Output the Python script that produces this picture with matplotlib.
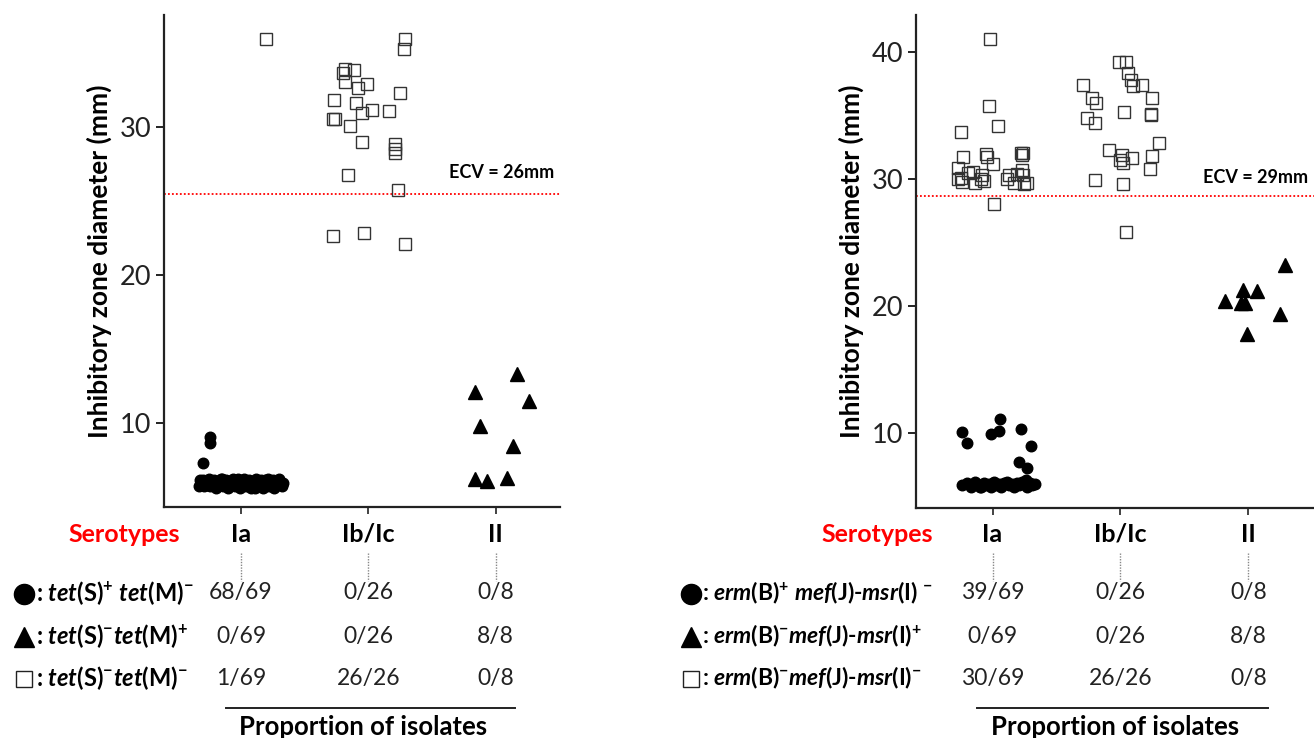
import matplotlib
matplotlib.use("Agg")
import matplotlib.pyplot as plt
from matplotlib.lines import Line2D
from matplotlib.transforms import blended_transform_factory

plt.rcParams['font.family'] = ['Lato', 'DejaVu Sans']
plt.rcParams['mathtext.fontset'] = 'custom'
plt.rcParams['mathtext.rm'] = 'Lato:bold'
plt.rcParams['mathtext.it'] = 'Lato:bold:italic'
plt.rcParams['mathtext.bf'] = 'Lato:bold'

# ---------------- data ----------------
serotypes = ["Ia", "Ib/Ic", "II"]

# Left panel (tetracycline)
L_ecv = 25.5
L_ecv_label = "ECV = 26mm"
L_circ_Ia_y = [9.05, 8.64, 7.24,
               5.7, 5.9, 6.1, 5.8, 6.0, 6.2, 5.7, 5.9, 6.1, 5.6, 5.8, 6.0, 6.2,
               5.7, 5.9, 6.1, 5.6, 5.8, 6.0, 6.2, 5.7, 5.9, 6.1, 5.6, 5.8, 6.0,
               6.2, 5.7, 5.9, 6.1, 5.6, 5.8, 6.0, 6.2, 5.7, 5.9, 6.1, 5.6, 5.8,
               6.0, 6.2, 5.7, 5.9, 6.1, 5.6, 5.8, 6.0, 6.2, 5.7, 5.9, 6.1, 5.8,
               6.0, 5.7, 6.2, 5.9, 5.6, 6.1, 5.8, 6.0, 5.7, 6.2, 5.9, 6.0, 5.8]
L_circ_Ia_j = [-0.24, -0.24, -0.30,
               -0.33, -0.31, -0.30, -0.28, -0.27, -0.25, -0.24, -0.22, -0.21,
               -0.20, -0.18, -0.17, -0.16, -0.14, -0.13, -0.12, -0.10, -0.09,
               -0.08, -0.06, -0.05, -0.04, -0.03, -0.01, 0.00, 0.01, 0.02, 0.04,
               0.05, 0.06, 0.08, 0.09, 0.10, 0.12, 0.13, 0.14, 0.16, 0.17, 0.18,
               0.20, 0.21, 0.22, 0.24, 0.25, 0.26, 0.28, 0.29, 0.30, 0.32, 0.33,
               -0.32, -0.26, -0.19, -0.11, -0.02, 0.03, 0.11, 0.19, 0.27, 0.31,
               -0.29, -0.15, 0.07, 0.15, 0.23]
L_sq_Ia_y = [36.0]
L_sq_Ia_j = [0.20]
L_sq_Ib_y = [35.97, 35.27, 33.92, 33.69, 33.87, 33.08, 32.63, 32.94, 31.83,
             32.31, 31.66, 30.94, 31.14, 31.10, 30.54, 30.54, 30.10, 28.98,
             28.84, 28.27, 26.76, 25.75, 22.61, 22.86, 22.09, 28.56]
L_sq_Ib_j = [0.29, 0.28, -0.18, -0.20, -0.11, -0.18, -0.08, -0.01, -0.27,
             0.25, -0.10, -0.05, 0.03, 0.16, -0.28, -0.26, -0.14, -0.05,
             0.21, 0.21, -0.16, 0.23, -0.28, -0.03, 0.29, 0.21]
L_tri_II_y = [13.29, 12.05, 11.46, 9.79, 8.42, 6.16, 6.05, 6.23]
L_tri_II_j = [0.17, -0.16, 0.26, -0.12, 0.14, -0.16, -0.07, 0.09]

L_row_labels = [r": $tet$(S)$^{+}$ $tet$(M)$^{-}$",
                r": $tet$(S)$^{-}tet$(M)$^{+}$",
                r": $tet$(S)$^{-}tet$(M)$^{-}$"]
L_props = [["68/69", "0/26", "0/8"],
           ["0/69", "0/26", "8/8"],
           ["1/69", "26/26", "0/8"]]

# Right panel (macrolide)
R_ecv = 28.7
R_ecv_label = "ECV = 29mm"
R_circ_Ia_y = [11.12, 10.08, 9.21, 9.92, 10.18, 10.34, 9.03, 7.77, 7.25,
               5.9, 6.1, 5.8, 6.2, 6.0, 5.8, 6.1, 5.9, 6.0, 5.8, 6.2, 5.9,
               6.0, 5.8, 6.1, 6.2, 5.9, 6.0, 5.8, 6.1, 5.9, 6.2, 6.0, 5.8,
               6.1, 5.9, 6.0, 5.8, 6.1, 6.3]
R_circ_Ia_j = [0.06, -0.24, -0.20, -0.01, 0.05, 0.22, 0.30, 0.21, 0.27,
               -0.24, -0.20, -0.17, -0.14, -0.12, -0.09, -0.07, -0.05, -0.03,
               -0.01, 0.01, 0.03, 0.05, 0.07, 0.09, 0.11, 0.13, 0.15, 0.17,
               0.19, 0.21, 0.23, 0.25, 0.27, 0.29, 0.31, 0.33, -0.10, 0.00, 0.26]
R_sq_Ia_y = [41.0, 35.73, 34.16, 33.71, 31.70, 31.93, 31.70, 31.17, 32.06,
             32.06, 31.88, 30.83, 30.57, 30.05, 29.97, 29.78, 30.31, 29.97,
             29.86, 29.70, 30.31, 29.97, 29.70, 30.70, 30.31, 29.70, 29.60,
             28.0, 30.44, 30.39]
R_sq_Ia_j = [-0.02, -0.03, 0.04, -0.25, -0.23, -0.05, -0.04, 0.00, 0.22,
             0.24, 0.23, -0.27, -0.15, -0.25, -0.27, -0.24, -0.08, -0.09,
             -0.07, -0.14, 0.13, 0.11, 0.17, 0.23, 0.24, 0.27, 0.25, 0.01,
             -0.19, 0.19]
R_sq_Ib_y = [39.21, 39.21, 38.30, 37.78, 37.33, 37.38, 37.38, 36.34, 35.99,
             36.34, 35.24, 35.10, 35.02, 34.81, 34.37, 32.25, 32.80, 31.88,
             31.67, 31.23, 31.82, 30.75, 29.89, 29.62, 25.80, 31.49]
R_sq_Ib_j = [-0.01, 0.04, 0.06, 0.08, 0.10, 0.17, -0.29, -0.22, -0.19, 0.25,
             0.03, 0.24, 0.24, -0.26, -0.20, -0.09, 0.30, 0.01, 0.09, 0.02,
             0.25, 0.23, -0.20, 0.02, 0.04, 0.00]
R_tri_II_y = [23.23, 20.40, 21.27, 21.21, 20.22, 20.22, 19.38, 17.78]
R_tri_II_j = [0.29, -0.18, -0.04, 0.07, -0.06, -0.03, 0.25, -0.01]

R_row_labels = [r": $erm$(B)$^{+}$ $mef$(J)-$msr$(I) $^{-}$",
                r": $erm$(B)$^{-}mef$(J)-$msr$(I)$^{+}$",
                r": $erm$(B)$^{-}mef$(J)-$msr$(I)$^{-}$"]
R_props = [["39/69", "0/26", "0/8"],
           ["0/69", "0/26", "8/8"],
           ["30/69", "26/26", "0/8"]]

yticks_L = [10, 20, 30]
yticks_R = [10, 20, 30, 40]

# ---------------- figure ----------------
W, H = 1314, 738
fig = plt.figure(figsize=(W / 100, H / 100), dpi=100)


def fy(y):
    return 1 - y / H


def fx(x):
    return x / W


def make_panel(rect, xlim, ylim, yticks, circ, sq_list, tri, ecv, ecv_lbl,
               ecv_xy, row_labels, props, marker_x, label_x, sero_right,
               row_fs):
    ax = fig.add_axes(rect)
    ax.set_xlim(*xlim)
    ax.set_ylim(*ylim)
    for s in ['top', 'right']:
        ax.spines[s].set_visible(False)
    for s in ['left', 'bottom']:
        ax.spines[s].set_linewidth(1.6)
        ax.spines[s].set_color('#222222')
    ax.set_xticks(range(len(serotypes)))
    ax.set_xticklabels([])
    ax.set_yticks(yticks)
    ax.tick_params(axis='y', length=6, width=1.4, labelsize=19.5, pad=3,
                   colors='#222222')
    ax.tick_params(axis='x', length=5, width=1.2, colors='#222222')
    ax.set_ylabel("Inhibitory zone diameter (mm)", fontsize=19,
                  fontweight='bold', labelpad=6)

    # red dotted ECV line
    ax.axhline(ecv, color='red', lw=1.3, ls=(0, (1, 1.2)), zorder=1)
    ax.text(ecv_xy[0], ecv_xy[1], ecv_lbl, transform=ax.transAxes,
            fontsize=13, fontweight='bold', ha='left', va='center')

    cy, cj, cpos = circ
    ax.plot([cpos + j for j in cj], cy, 'o', ms=7.6, color='black',
            mec='black', zorder=3, clip_on=False)
    for sy, sj, spos in sq_list:
        ax.plot([spos + j for j in sj], sy, 's', ms=8.6, mfc='none',
                mec='#333333', mew=1.0, zorder=3, clip_on=False)
    ty, tj, tpos = tri
    ax.plot([tpos + j for j in tj], ty, '^', ms=10.5, color='black',
            mec='black', zorder=3, clip_on=False)

    # table below
    bt = blended_transform_factory(ax.transData, fig.transFigure)
    fig.text(fx(sero_right), fy(534), "Serotypes", color='red',
             fontsize=18, fontweight='bold', ha='right', va='center')
    for i, s in enumerate(serotypes):
        fig.text(i, fy(534), s, transform=bt, fontsize=18, fontweight='bold',
                 ha='center', va='center')
        fig.add_artist(Line2D([i, i], [fy(553), fy(581)], transform=bt,
                              color='#888888', lw=1.0, ls=(0, (1, 1))))
    rows_y = [593, 636, 678]
    mk = [dict(marker='o', ms=14.5, color='black'),
          dict(marker='^', ms=15, color='black'),
          dict(marker='s', ms=11, mfc='white', mec='#222222', mew=1.0)]
    for r in range(3):
        fig.add_artist(Line2D([fx(marker_x)], [fy(rows_y[r] + 1)],
                              transform=fig.transFigure, ls='none', **mk[r]))
        fig.text(fx(label_x), fy(rows_y[r]), row_labels[r], fontsize=row_fs,
                 fontweight='bold', ha='left', va='center')
        for i in range(3):
            fig.text(i, fy(rows_y[r]), props[r][i], transform=bt,
                     fontsize=16.5, ha='center', va='center', color='#222222')
    fig.add_artist(Line2D([-0.12, 2.15], [fy(708), fy(708)], transform=bt,
                          color='#222222', lw=1.4))
    fig.text(0.96, fy(727), "Proportion of isolates", transform=bt,
             fontsize=18.5, fontweight='bold', ha='center', va='center')
    return ax


# left panel
make_panel([fx(164), fy(507), fx(560 - 164), (507 - 15) / H],
           (-0.605, 2.506), (4.29, 37.6), yticks_L,
           (L_circ_Ia_y, L_circ_Ia_j, 0),
           [(L_sq_Ia_y, L_sq_Ia_j, 0), (L_sq_Ib_y, L_sq_Ib_j, 1)],
           (L_tri_II_y, L_tri_II_j, 2),
           L_ecv, L_ecv_label, (0.72, 0.68),
           L_row_labels, L_props, 24, 36, 180, 17)

# right panel
make_panel([fx(916), fy(508), fx(1314 - 916), (508 - 15) / H],
           (-0.598, 2.513), (4.13, 42.9), yticks_R,
           (R_circ_Ia_y, R_circ_Ia_j, 0),
           [(R_sq_Ia_y, R_sq_Ia_j, 0), (R_sq_Ib_y, R_sq_Ib_j, 1)],
           (R_tri_II_y, R_tri_II_j, 2),
           R_ecv, R_ecv_label, (0.72, 0.67),
           R_row_labels, R_props, 691, 702, 933, 16.5)

fig.savefig("out.png", dpi=100)
